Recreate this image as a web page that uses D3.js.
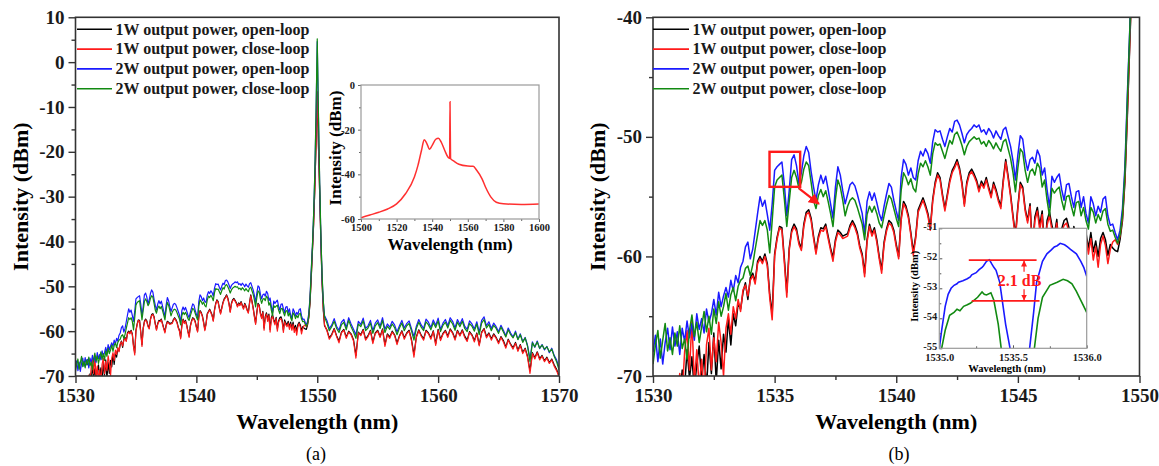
<!DOCTYPE html>
<html>
<head>
<meta charset="utf-8">
<script src="https://d3js.org/d3.v7.min.js"></script>
<style>
  body { margin: 0; background: #fff; }
  svg text { font-family: 'Liberation Serif', 'Times New Roman', serif; }
</style>
</head>
<body>
<svg width="1159" height="466"></svg>
<script>

// ---- spectra (dBm) ----
// fine part: 1530.0 .. 1550.6 nm every 0.1 nm, coarse part: 1550.8 .. 1570.0 nm every 0.2 nm
var fineStart = 1530.0, fineStep = 0.1;
var coarseStart = 1550.8, coarseStep = 0.2;

var seriesNames = ['1W output power, open-loop', '1W output power, close-loop',
    '2W output power, open-loop', '2W output power, close-loop'];
var seriesColors = ['#000000', '#ff1a1a', '#1a1aff', '#128a12'];

var oneWOpenFine = [
    -71.5, -72, -70.8, -72, -71, -72, -70.6, -72, -71.2, -72,
    -70.8, -72, -69.5, -71.0, -67.8, -70.2, -68.4, -71.2, -69.0, -67.5,
    -70.4, -68.2, -71.0, -67.2, -69.8, -66.4, -70.5, -67.0, -69.4, -66.5,
    -68.0, -65.2, -67.4, -64.8, -65.8, -63.9, -64.4, -63.0, -62.2, -63.6,
    -61.8, -61.4, -62.1, -60.4, -60.0, -60.4, -59.8, -60.6, -63.2, -64.8,
    -59.8, -58.4, -57.5, -57.6, -60.2, -63.0, -59.3, -57.8, -57.3, -57.7,
    -58.8, -59.3, -57.3, -56.3, -56.1, -56.8, -58.3, -59.6, -58.3, -57.6,
    -57.7, -57.3, -58.3, -59.3, -60.1, -58.6, -57.8, -58.0, -58.3, -58.2,
    -58.1, -57.4, -57.0, -57.4, -58.0, -59.1, -59.8, -61.4, -58.6, -57.3,
    -58.1, -57.6, -58.6, -60.0, -61.1, -58.8, -57.7, -57.0, -57.2, -57.8,
    -59.0, -60.0, -56.8, -55.4, -55.8, -56.6, -58.0, -59.6, -58.3, -56.1,
    -55.6, -55.1, -55.7, -56.4, -57.6, -55.2, -53.8, -53.0, -53.4, -54.8,
    -56.0, -54.8, -53.6, -52.8, -52.4, -51.9, -52.6, -53.8, -55.6, -53.8,
    -53.0, -52.7, -53.1, -53.6, -54.4, -53.7, -54.1, -53.4, -54.2, -54.9,
    -53.8, -54.4, -55.2, -55.8, -53.6, -51.9, -53.3, -54.8, -56.6, -58.2,
    -55.8, -53.8, -54.2, -56.0, -57.0, -55.6, -59.3, -56.7, -55.9, -57.4,
    -56.2, -59.6, -57.0, -56.3, -57.4, -58.2, -56.9, -59.5, -57.7, -57.0,
    -56.8, -57.6, -59.8, -57.5, -58.2, -58.6, -57.8, -59.1, -58.0, -59.3,
    -58.0, -59.6, -58.7, -60.0, -58.5, -58.0, -58.6, -59.9, -59.0, -59.3,
    -59.5, -59.6, -58.6, -57.0, -53.8, -48.3, -42.3, -36.2, -28.3, -18.3,
    -6.8, -18.8, -29.3, -40.3, -49.3, -55.3, -58.8
];
var oneWOpenCoarse = [
    -59.7, -61.5, -60.7, -59.4, -61.0, -62.2, -60.2, -59.6, -61.3, -60.0,
    -60.6, -61.9, -65.4, -60.2, -60.8, -59.6, -61.7, -61.0, -59.8, -62.4,
    -60.4, -59.8, -61.2, -59.5, -63.0, -60.6, -61.3, -60.0, -60.8, -62.6,
    -61.0, -59.9, -61.5, -60.4, -59.8, -61.9, -65.2, -61.2, -59.7, -60.9,
    -61.7, -59.8, -60.4, -61.5, -59.9, -62.8, -59.6, -61.8, -60.5, -59.8,
    -61.1, -59.5, -60.3, -61.7, -59.8, -60.9, -59.7, -61.1, -62.0, -60.1,
    -60.8, -62.1, -60.4, -63.0, -60.2, -59.4, -61.2, -60.4, -61.7, -60.6,
    -61.4, -62.5, -61.2, -62.1, -63.5, -61.8, -62.9, -63.7, -62.5, -64.2,
    -63.0, -64.7, -63.8, -65.6, -68.8, -64.8, -65.9, -64.6, -66.1, -65.4,
    -66.6, -65.8, -67.0, -66.2, -67.5, -68.5, -70.0
];

var oneWCloseFine = [
    -72, -71, -72, -71.5, -72, -71, -72, -70.5, -72, -71,
    -72, -69.8, -71.5, -68.0, -66.2, -69.5, -65.4, -70.5, -67.8, -71.0,
    -68.6, -71.5, -67.4, -66.0, -69.5, -66.8, -68.8, -65.5, -67.2, -70.0,
    -66.0, -64.8, -66.5, -64.2, -65.2, -63.6, -64.6, -62.8, -62.4, -63.3,
    -62.0, -61.6, -62.3, -60.6, -60.2, -60.6, -60.0, -60.8, -63.5, -65.3,
    -60.0, -58.6, -57.6, -57.8, -60.5, -63.4, -59.5, -58.0, -57.5, -57.9,
    -59.0, -59.5, -57.5, -56.5, -56.3, -57.0, -58.5, -59.8, -58.5, -57.8,
    -57.9, -57.5, -58.5, -59.5, -60.4, -58.8, -58.0, -58.2, -58.5, -58.4,
    -58.3, -57.6, -57.2, -57.6, -58.2, -59.3, -60.0, -61.7, -58.8, -57.5,
    -58.3, -57.8, -58.8, -60.2, -61.4, -59.0, -57.9, -57.2, -57.4, -58.0,
    -59.2, -60.2, -57.0, -55.6, -56.0, -56.8, -58.2, -59.9, -58.5, -56.3,
    -55.8, -55.3, -55.9, -56.6, -57.8, -55.4, -54.0, -53.2, -53.6, -55.0,
    -56.2, -55.0, -53.8, -53.0, -52.6, -52.1, -52.8, -54.0, -55.8, -54.0,
    -53.2, -52.9, -53.3, -53.8, -54.6, -53.9, -54.3, -53.6, -54.4, -55.1,
    -54.0, -54.6, -55.4, -56.0, -53.8, -52.1, -53.5, -55.0, -56.8, -58.5,
    -56.0, -54.0, -54.4, -56.2, -57.2, -55.8, -59.8, -57.0, -56.2, -57.8,
    -56.5, -60.2, -57.4, -56.6, -57.8, -58.6, -57.2, -60.0, -58.0, -57.4,
    -57.2, -58.0, -60.3, -57.9, -58.6, -59.0, -58.2, -59.6, -58.4, -59.8,
    -58.5, -60.3, -59.2, -60.9, -59.0, -58.3, -59.1, -60.6, -59.4, -58.8,
    -58.6, -59.0, -58.3, -56.8, -53.5, -48.0, -42.0, -36.0, -28.0, -18.0,
    -6.5, -18.5, -29.0, -40.0, -49.0, -55.0, -58.5
];
var oneWCloseCoarse = [
    -59.9, -61.8, -60.9, -59.6, -61.2, -62.6, -60.4, -59.8, -61.6, -60.2,
    -60.8, -62.2, -66.0, -60.4, -61.0, -59.8, -62.0, -61.2, -60.0, -62.8,
    -60.6, -60.0, -61.4, -59.7, -63.4, -60.8, -61.6, -60.2, -61.0, -63.0,
    -61.2, -60.1, -61.8, -60.6, -60.0, -62.2, -65.8, -61.4, -59.9, -61.1,
    -62.0, -60.0, -60.6, -61.8, -60.1, -63.2, -59.8, -62.1, -60.7, -60.0,
    -61.4, -59.7, -60.5, -62.0, -60.0, -61.1, -59.9, -61.4, -62.3, -60.3,
    -61.0, -62.4, -60.6, -63.3, -60.4, -59.6, -61.5, -60.6, -62.0, -60.8,
    -61.6, -62.8, -61.4, -62.4, -63.8, -62.0, -63.1, -64.0, -62.7, -64.5,
    -63.2, -65.0, -64.0, -65.9, -69.4, -65.0, -66.2, -64.8, -66.4, -65.6,
    -66.8, -66.0, -67.2, -66.4, -67.8, -68.8, -70.2
];

var twoWOpenFine = [
    -68.0, -66.6, -68.8, -66.9, -69.0, -67.2, -66.0, -67.8, -65.9, -67.5,
    -66.3, -68.2, -66.0, -67.1, -65.4, -66.8, -65.6, -67.0, -64.8, -66.1,
    -65.2, -66.4, -64.4, -65.5, -64.8, -63.6, -64.9, -63.0, -64.2, -63.3,
    -62.6, -63.4, -62.0, -62.9, -61.6, -62.2, -60.9, -60.4, -59.2, -58.8,
    -60.2, -59.4, -57.9, -56.4, -55.0, -55.8, -55.3, -56.5, -57.8, -55.6,
    -52.8, -52.5, -52.3, -52.1, -54.0, -56.6, -54.5, -51.9, -51.5, -52.4,
    -53.9, -53.0, -51.6, -50.8, -51.3, -52.9, -54.2, -55.3, -54.0, -53.2,
    -53.9, -53.3, -54.4, -55.6, -56.8, -54.2, -52.5, -53.2, -54.5, -55.6,
    -54.8, -54.0, -53.8, -54.1, -54.8, -55.6, -56.4, -58.1, -55.4, -54.6,
    -55.3, -54.7, -55.5, -56.4, -57.0, -55.8, -54.8, -53.9, -54.2, -55.3,
    -56.2, -57.0, -53.4, -51.9, -52.3, -53.2, -52.6, -53.4, -53.6, -52.0,
    -51.2, -51.6, -51.0, -51.4, -52.2, -50.4, -49.4, -49.6, -49.5, -50.2,
    -50.8, -50.0, -49.3, -49.6, -48.7, -48.6, -49.0, -49.7, -50.5, -49.8,
    -49.5, -49.3, -49.0, -49.2, -49.0, -49.6, -49.4, -49.8, -49.3, -49.6,
    -50.1, -49.5, -49.9, -50.2, -49.4, -49.2, -50.0, -50.8, -52.0, -53.6,
    -51.5, -49.9, -50.2, -51.8, -52.8, -51.9, -51.7, -52.2, -51.1, -51.6,
    -53.2, -52.6, -54.4, -55.9, -53.3, -53.8, -53.4, -53.1, -54.4, -55.3,
    -54.0, -53.9, -55.0, -55.9, -54.6, -54.5, -55.9, -55.0, -56.4, -57.2,
    -55.0, -55.6, -56.6, -55.8, -56.3, -55.2, -55.0, -56.6, -57.4, -57.3,
    -58.0, -58.6, -57.8, -56.0, -52.5, -46.5, -41.0, -34.0, -25.0, -12.0,
    4.6, -12.5, -27.0, -39.0, -48.0, -53.5, -56.5
];
var twoWOpenCoarse = [
    -57.6, -59.4, -58.6, -57.2, -58.9, -59.8, -58.0, -57.4, -59.2, -57.0,
    -58.4, -59.6, -60.8, -57.8, -58.5, -57.1, -59.4, -58.8, -57.6, -59.9,
    -58.2, -57.5, -58.9, -57.0, -59.6, -58.4, -59.1, -57.8, -58.6, -60.2,
    -58.8, -57.6, -59.3, -58.3, -57.7, -59.5, -61.2, -58.9, -57.4, -58.6,
    -59.4, -57.3, -58.0, -59.2, -57.5, -58.7, -57.1, -59.6, -58.2, -57.4,
    -58.8, -57.0, -57.8, -59.3, -57.4, -58.5, -57.2, -58.9, -59.6, -57.7,
    -58.4, -59.5, -57.9, -60.2, -57.6, -56.8, -58.8, -57.9, -59.4, -58.2,
    -59.0, -60.1, -58.7, -59.8, -61.0, -59.3, -60.4, -61.3, -60.0, -61.8,
    -60.6, -62.3, -61.4, -63.2, -66.2, -62.4, -63.6, -62.2, -63.9, -63.0,
    -64.2, -63.4, -64.8, -63.8, -65.4, -66.4, -68.2
];

var twoWCloseFine = [
    -69.0, -67.4, -66.2, -68.5, -67.0, -65.6, -67.9, -66.8, -68.2, -66.4,
    -67.5, -65.8, -67.7, -66.9, -68.6, -66.2, -64.9, -66.7, -65.5, -67.2,
    -65.9, -64.6, -66.3, -65.0, -66.5, -64.4, -65.6, -63.8, -65.0, -64.2,
    -63.1, -64.5, -63.2, -62.6, -63.7, -62.5, -62.0, -61.8, -61.0, -60.8,
    -61.6, -60.7, -59.4, -58.2, -57.0, -57.4, -57.0, -57.8, -59.7, -57.0,
    -54.2, -53.6, -53.4, -53.2, -55.2, -57.5, -55.4, -53.4, -52.8, -53.4,
    -54.3, -53.8, -52.7, -52.1, -52.4, -53.8, -55.3, -56.0, -54.9, -54.4,
    -55.0, -54.5, -55.4, -56.4, -57.5, -55.2, -53.6, -54.2, -55.3, -56.6,
    -55.8, -55.3, -55.1, -55.3, -55.9, -56.6, -57.3, -58.6, -56.5, -55.8,
    -56.3, -55.8, -56.4, -57.2, -57.6, -56.6, -55.7, -54.9, -55.2, -56.0,
    -56.8, -57.5, -54.5, -53.0, -53.4, -54.0, -53.5, -54.3, -54.6, -53.1,
    -52.2, -52.5, -52.0, -52.5, -53.2, -51.4, -50.5, -50.7, -50.6, -51.2,
    -51.8, -51.0, -50.3, -50.6, -49.8, -49.6, -50.1, -50.7, -51.5, -50.8,
    -50.4, -50.2, -50.0, -50.2, -50.1, -50.6, -50.4, -50.8, -50.3, -50.6,
    -51.0, -50.5, -50.9, -51.2, -50.4, -50.2, -51.0, -51.8, -53.0, -54.6,
    -52.6, -51.0, -51.3, -52.8, -53.8, -52.9, -52.7, -53.2, -52.2, -52.6,
    -54.2, -53.6, -55.3, -56.6, -54.3, -54.7, -54.4, -54.2, -55.3, -56.1,
    -55.0, -54.9, -55.8, -56.6, -55.5, -55.4, -56.6, -55.9, -57.0, -57.7,
    -55.9, -56.3, -57.2, -56.5, -57.0, -56.2, -56.0, -57.3, -57.9, -57.8,
    -58.4, -58.9, -58.2, -56.5, -53.0, -47.0, -41.2, -34.0, -24.5, -11.0,
    5.2, -11.5, -26.5, -38.5, -47.5, -53.2, -56.8
];
var twoWCloseCoarse = [
    -58.2, -59.9, -59.0, -57.8, -59.4, -60.3, -58.6, -58.0, -59.7, -57.6,
    -59.0, -60.2, -61.6, -58.4, -59.0, -57.7, -59.9, -59.3, -58.2, -60.5,
    -58.8, -58.1, -59.4, -57.6, -60.3, -58.9, -59.6, -58.4, -59.2, -60.8,
    -59.3, -58.2, -59.9, -58.8, -58.3, -60.0, -62.0, -59.4, -58.0, -59.1,
    -59.9, -57.9, -58.6, -59.7, -58.1, -59.2, -57.7, -60.1, -58.7, -58.0,
    -59.3, -57.6, -58.4, -59.8, -58.0, -59.0, -57.8, -59.4, -60.1, -58.3,
    -58.9, -60.0, -58.4, -60.8, -58.2, -57.4, -59.3, -58.5, -59.9, -58.7,
    -59.4, -60.5, -59.1, -60.2, -61.3, -59.7, -60.8, -61.5, -60.3, -61.9,
    -60.8, -62.5, -61.5, -63.4, -66.8, -62.6, -63.5, -62.4, -63.8, -63.1,
    -64.0, -63.5, -64.6, -64.0, -65.6, -66.8, -68.6
];

// inset of (a): full-band spectrum, 1500..1600 nm
var fullWl = [1500, 1505, 1510, 1515, 1520, 1525, 1530, 1532, 1534, 1535.5, 1537, 1538.5, 1540,
    1542, 1543.5, 1545, 1547, 1549, 1549.8, 1550, 1550.3, 1552, 1555, 1560, 1563, 1565, 1568,
    1570, 1573, 1576, 1580, 1590, 1600];
var fullDb = [-59.4, -58.2, -57.0, -55.5, -53.2, -48.7, -41.2, -36.0, -29.2, -24.5, -26.2, -28.8, -27.0,
    -24.3, -23.8, -25.5, -29.2, -32.5, -32.9, -7.5, -33.0, -34.0, -35.5, -36.3, -36.4, -38.2, -42.0,
    -45.8, -50.2, -52.5, -53.2, -53.5, -53.3];

// inset of (b): 2W traces around 1535-1536 nm
var zoomBlueWl = [1534.99, 1535.0, 1535.016, 1535.04, 1535.06, 1535.08, 1535.1, 1535.12, 1535.13, 1535.16,
    1535.19, 1535.21, 1535.22, 1535.25, 1535.27, 1535.29, 1535.3, 1535.32, 1535.34, 1535.355, 1535.37,
    1535.385, 1535.41, 1535.43, 1535.45, 1535.48, 1535.52, 1535.59, 1535.615, 1535.64, 1535.66, 1535.7,
    1535.73, 1535.76, 1535.78, 1535.8, 1535.82, 1535.85, 1535.87, 1535.89, 1535.93, 1535.96, 1535.98, 1536.0];
var zoomBlueDb = [-56.0, -55.0, -54.4, -53.6, -53.2, -53.0, -52.9, -52.85, -52.8, -52.75,
    -52.68, -52.62, -52.55, -52.48, -52.38, -52.3, -52.25, -52.1, -52.05, -52.18, -52.3,
    -52.4, -52.8, -53.5, -54.2, -55.0, -56.0, -56.0, -54.9, -53.8, -52.8, -52.1,
    -51.85, -51.72, -51.62, -51.58, -51.5, -51.55, -51.62, -51.7, -51.85, -52.1, -52.3, -52.6];
var zoomGreenWl = [1535.0, 1535.016, 1535.04, 1535.07, 1535.1, 1535.12, 1535.14, 1535.165, 1535.19,
    1535.21, 1535.235, 1535.26, 1535.29, 1535.305, 1535.32, 1535.35, 1535.37, 1535.4, 1535.42,
    1535.45, 1535.62, 1535.645, 1535.67, 1535.7, 1535.75, 1535.8, 1535.84, 1535.87, 1535.9,
    1535.93, 1535.96, 1536.0];
var zoomGreenDb = [-56.0, -55.0, -54.4, -53.9, -53.8, -53.7, -53.75, -53.6, -53.55,
    -53.5, -53.4, -53.3, -53.12, -53.2, -53.22, -53.15, -53.4, -54.2, -55.0,
    -56.0, -56.0, -55.0, -54.0, -53.3, -52.9, -52.8, -52.7, -52.75, -52.85,
    -53.1, -53.4, -53.8];

// annotation anchors (data units)
var markBox = { x0: 1534.79, x1: 1536.05, y0: -51.25, y1: -54.18 };
var markArrow = [[1536.0, -54.3], [1536.82, -55.6]];
var gapHigh = -52.06, gapLow = -53.42, gapLabel = '2.1 dB';

// ---- build traces ----
function buildTrace(fine, coarse) {
    var pts = fine.map(function (v, i) { return { wl: fineStart + i * fineStep, db: v }; });
    coarse.forEach(function (v, i) { pts.push({ wl: coarseStart + i * coarseStep, db: v }); });
    return pts;
}
var traces = [
    buildTrace(oneWOpenFine, oneWOpenCoarse),
    buildTrace(oneWCloseFine, oneWCloseCoarse),
    buildTrace(twoWOpenFine, twoWOpenCoarse),
    buildTrace(twoWCloseFine, twoWCloseCoarse)
].map(function (v, i) { return { name: seriesNames[i], color: seriesColors[i], values: v }; });

var svg = d3.select('svg');
var defs = svg.append('defs');
defs.append('marker').attr('id', 'head').attr('viewBox', '0 0 10 10')
    .attr('refX', 9).attr('refY', 5).attr('markerWidth', 5).attr('markerHeight', 5)
    .attr('orient', 'auto-start-reverse')
    .append('path').attr('d', 'M0,0L10,5L0,10z').attr('fill', '#ff1a1a');

var hyphen = function (d) { return String(d); };

// axes with separate major / minor ticks, frame drawn afterwards
function drawAxes(g, x, y, w, h, a) {
    var dir = a.inward ? -1 : 1;
    function look(sel, fs) {
        sel.select('.domain').remove();
        sel.selectAll('line').attr('stroke', a.tickColor).attr('stroke-width', a.tickWidth);
        sel.selectAll('text').attr('font-size', fs).attr('font-weight', 'bold').attr('fill', '#1a1a1a');
    }
    g.append('g').attr('transform', 'translate(0,' + h + ')')
        .call(d3.axisBottom(x).tickValues(a.xMinor).tickSize(dir * a.minorLen).tickFormat(''))
        .call(look, a.fs);
    g.append('g').attr('transform', 'translate(0,' + h + ')')
        .call(d3.axisBottom(x).tickValues(a.xMajor).tickSize(dir * a.majorLen).tickPadding(a.padX).tickFormat(a.fmtX))
        .call(look, a.fs);
    g.append('g')
        .call(d3.axisLeft(y).tickValues(a.yMinor).tickSize(dir * a.minorLen).tickFormat(''))
        .call(look, a.fsY || a.fs);
    var yl = g.append('g')
        .call(d3.axisLeft(y).tickValues(a.yMajor).tickSize(dir * a.majorLen).tickPadding(a.padY).tickFormat(hyphen))
        .call(look, a.fsY || a.fs);
    if (a.yDy) yl.selectAll('text').attr('dy', a.yDy);
    g.append('rect').attr('width', w).attr('height', h)
        .attr('fill', 'none').attr('stroke', a.frame).attr('stroke-width', a.frameWidth);
}

function drawMain(c) {
    var w = c.right - c.left, h = c.bottom - c.top;
    var g = svg.append('g').attr('transform', 'translate(' + c.left + ',' + c.top + ')');
    var x = d3.scaleLinear().domain(c.xDomain).range([0, w]);
    var y = d3.scaleLinear().domain(c.yDomain).range([h, 0]);

    defs.append('clipPath').attr('id', c.id).append('rect').attr('width', w).attr('height', h);

    var line = d3.line().x(function (d) { return x(d.wl); }).y(function (d) { return y(d.db); });
    g.append('g').attr('clip-path', 'url(#' + c.id + ')')
        .selectAll('path').data(traces).enter().append('path')
        .attr('d', function (d) { return line(d.values); })
        .attr('fill', 'none')
        .attr('stroke', function (d) { return d.color; })
        .attr('stroke-width', c.lw)
        .attr('stroke-linejoin', 'round');

    drawAxes(g, x, y, w, h, {
        xMajor: c.xMajor, xMinor: c.xMinor, yMajor: c.yMajor, yMinor: c.yMinor,
        majorLen: 7, minorLen: 4, padX: 6, padY: 4, fs: 19, fmtX: hyphen,
        tickColor: '#333', tickWidth: 1.4, frame: '#333', frameWidth: 1.6
    });

    // legend
    var leg = g.append('g').selectAll('g').data(traces).enter().append('g')
        .attr('transform', function (d, i) { return 'translate(0,' + (12 + i * 19.8) + ')'; });
    leg.append('line').attr('x1', c.legX1).attr('x2', c.legX2)
        .attr('stroke', function (d) { return d.color; }).attr('stroke-width', 1.6);
    leg.append('text').attr('x', c.legX2 + 3.5).attr('dy', '0.33em')
        .attr('font-size', 16).attr('font-weight', 'bold').attr('fill', '#1a1a1a')
        .text(function (d) { return d.name; });

    // axis titles and caption
    g.append('text').attr('x', w / 2).attr('y', 413.5 - c.top + 16)
        .attr('text-anchor', 'middle').attr('font-size', 22).attr('font-weight', 'bold')
        .text('Wavelength (nm)');
    g.append('text').attr('transform', 'translate(' + (c.yTitleX - c.left) + ',' + (h / 2) + ') rotate(-90)')
        .attr('text-anchor', 'middle').attr('font-size', 22).attr('font-weight', 'bold')
        .text('Intensity (dBm)');
    svg.append('text').attr('x', c.capX).attr('y', 460)
        .attr('text-anchor', 'middle').attr('font-size', 18).text(c.caption);

    return { g: g, x: x, y: y, w: w, h: h };
}

// ---- panel (a) ----
var pa = drawMain({
    id: 'clipA', left: 75.5, right: 559, top: 17.3, bottom: 376,
    xDomain: [1530, 1570], yDomain: [-70, 10], lw: 1.2,
    xMajor: [1530, 1540, 1550, 1560, 1570], xMinor: [1535, 1545, 1555, 1565],
    yMajor: [-70, -60, -50, -40, -30, -20, -10, 0, 10], yMinor: [-65, -55, -45, -35, -25, -15, -5, 5],
    legX1: 1.5, legX2: 36.5, yTitleX: 28, capX: 316, caption: '(a)'
});

// ---- panel (b) ----
var pb = drawMain({
    id: 'clipB', left: 653, right: 1139.5, top: 17.3, bottom: 376,
    xDomain: [1530, 1550], yDomain: [-70, -40], lw: 1.5,
    xMajor: [1530, 1535, 1540, 1545, 1550], xMinor: [1532.5, 1537.5, 1542.5, 1547.5],
    yMajor: [-70, -60, -50, -40], yMinor: [-65, -55, -45],
    legX1: 0, legX2: 36, yTitleX: 605, capX: 899, caption: '(b)'
});

// red box + arrow in (b)
pb.g.append('rect')
    .attr('x', pb.x(markBox.x0)).attr('y', pb.y(markBox.y0))
    .attr('width', pb.x(markBox.x1) - pb.x(markBox.x0)).attr('height', pb.y(markBox.y1) - pb.y(markBox.y0))
    .attr('fill', 'none').attr('stroke', '#ff1a1a').attr('stroke-width', 2.4);
pb.g.append('line')
    .attr('x1', pb.x(markArrow[0][0])).attr('y1', pb.y(markArrow[0][1]))
    .attr('x2', pb.x(markArrow[1][0])).attr('y2', pb.y(markArrow[1][1]))
    .attr('stroke', '#ff1a1a').attr('stroke-width', 2.2).attr('marker-end', 'url(#head)');

// ---- inset of (a) ----
(function () {
    var left = 361, right = 539, top = 85, bottom = 219;
    var w = right - left, h = bottom - top;
    var g = svg.append('g').attr('transform', 'translate(' + left + ',' + top + ')');
    var x = d3.scaleLinear().domain([1500, 1600]).range([0, w]);
    var y = d3.scaleLinear().domain([-60, 0]).range([h, 0]);
    g.append('rect').attr('width', w).attr('height', h).attr('fill', '#fff');
    defs.append('clipPath').attr('id', 'clipIA').append('rect').attr('width', w).attr('height', h);
    g.append('path').datum(d3.zip(fullWl, fullDb))
        .attr('clip-path', 'url(#clipIA)')
        .attr('d', d3.line().curve(d3.curveMonotoneX)
            .x(function (d) { return x(d[0]); }).y(function (d) { return y(d[1]); }))
        .attr('fill', 'none').attr('stroke', '#ff3030').attr('stroke-width', 1.5);
    drawAxes(g, x, y, w, h, {
        xMajor: [1500, 1520, 1540, 1560, 1580, 1600], xMinor: [1510, 1530, 1550, 1570, 1590],
        yMajor: [-60, -40, -20, 0], yMinor: [-50, -30, -10],
        majorLen: 3, minorLen: 2, padX: 2, padY: 3, fs: 10.5, fmtX: hyphen,
        tickColor: '#666', tickWidth: 1, frame: '#9a9a9a', frameWidth: 1.2
    });
    g.append('text').attr('x', w / 2).attr('y', 250 - top)
        .attr('text-anchor', 'middle').attr('font-size', 17).attr('font-weight', 'bold')
        .text('Wavelength (nm)');
    g.append('text').attr('transform', 'translate(' + (341 - left) + ',' + (h / 2 - 4) + ') rotate(-90)')
        .attr('text-anchor', 'middle').attr('font-size', 17).attr('font-weight', 'bold')
        .text('Intensity (dBm)');
})();

// ---- inset of (b) ----
(function () {
    var left = 939.3, right = 1086.7, top = 228.3, bottom = 348.3;
    var w = right - left, h = bottom - top;
    var g = svg.append('g').attr('transform', 'translate(' + left + ',' + top + ')');
    var x = d3.scaleLinear().domain([1535.0, 1536.0]).range([0, w]);
    var y = d3.scaleLinear().domain([-55, -51]).range([h, 0]);
    g.append('rect').attr('width', w).attr('height', h).attr('fill', '#fff');
    defs.append('clipPath').attr('id', 'clipIB').append('rect').attr('width', w).attr('height', h);
    var line = d3.line().x(function (d) { return x(d[0]); }).y(function (d) { return y(d[1]); });
    var cg = g.append('g').attr('clip-path', 'url(#clipIB)');
    cg.append('path').datum(d3.zip(zoomGreenWl, zoomGreenDb)).attr('d', line)
        .attr('fill', 'none').attr('stroke', seriesColors[3]).attr('stroke-width', 1.6);
    cg.append('path').datum(d3.zip(zoomBlueWl, zoomBlueDb)).attr('d', line)
        .attr('fill', 'none').attr('stroke', seriesColors[2]).attr('stroke-width', 1.6);
    drawAxes(g, x, y, w, h, {
        xMajor: [1535.0, 1535.5, 1536.0], xMinor: [1535.25, 1535.75],
        yMajor: [-55, -54, -53, -52, -51], yMinor: [-54.5, -53.5, -52.5, -51.5],
        majorLen: 3, minorLen: 2, padX: 5.5, padY: 2, fs: 10.5, fsY: 10.5, yDy: '0.1em', inward: true,
        fmtX: function (d) { return d.toFixed(1); },
        tickColor: '#555', tickWidth: 1, frame: '#9a9a9a', frameWidth: 1.2
    });
    g.append('text').attr('x', w / 2 - 6).attr('y', 372 - top)
        .attr('text-anchor', 'middle').attr('font-size', 10.5).attr('font-weight', 'bold')
        .text('Wavelength (nm)');
    g.append('text').attr('transform', 'translate(' + (918 - left) + ',' + (h / 2 - 2) + ') rotate(-90)')
        .attr('text-anchor', 'middle').attr('font-size', 10.5).attr('font-weight', 'bold')
        .text('Intensity (dBm)');

    // 2.1 dB difference marker
    var red = '#ff1a1a';
    g.append('line').attr('x1', x(1535.2)).attr('x2', x(1535.66))
        .attr('y1', y(gapHigh)).attr('y2', y(gapHigh)).attr('stroke', red).attr('stroke-width', 1.6);
    g.append('line').attr('x1', x(1535.22)).attr('x2', x(1535.68))
        .attr('y1', y(gapLow)).attr('y2', y(gapLow)).attr('stroke', red).attr('stroke-width', 1.6);
    g.append('line').attr('x1', x(1535.575)).attr('x2', x(1535.575))
        .attr('y1', y(-52.45)).attr('y2', y(gapHigh) + 1)
        .attr('stroke', red).attr('stroke-width', 1.2).attr('marker-end', 'url(#head)');
    g.append('line').attr('x1', x(1535.575)).attr('x2', x(1535.575))
        .attr('y1', y(-53.03)).attr('y2', y(gapLow) - 1)
        .attr('stroke', red).attr('stroke-width', 1.2).attr('marker-end', 'url(#head)');
    g.append('text').attr('x', x(1535.545)).attr('y', y((gapHigh + gapLow) / 2)).attr('dy', '0.35em')
        .attr('text-anchor', 'middle').attr('font-size', 16).attr('font-weight', 'bold').attr('fill', red)
        .text(gapLabel);
})();

</script>
</body>
</html>
